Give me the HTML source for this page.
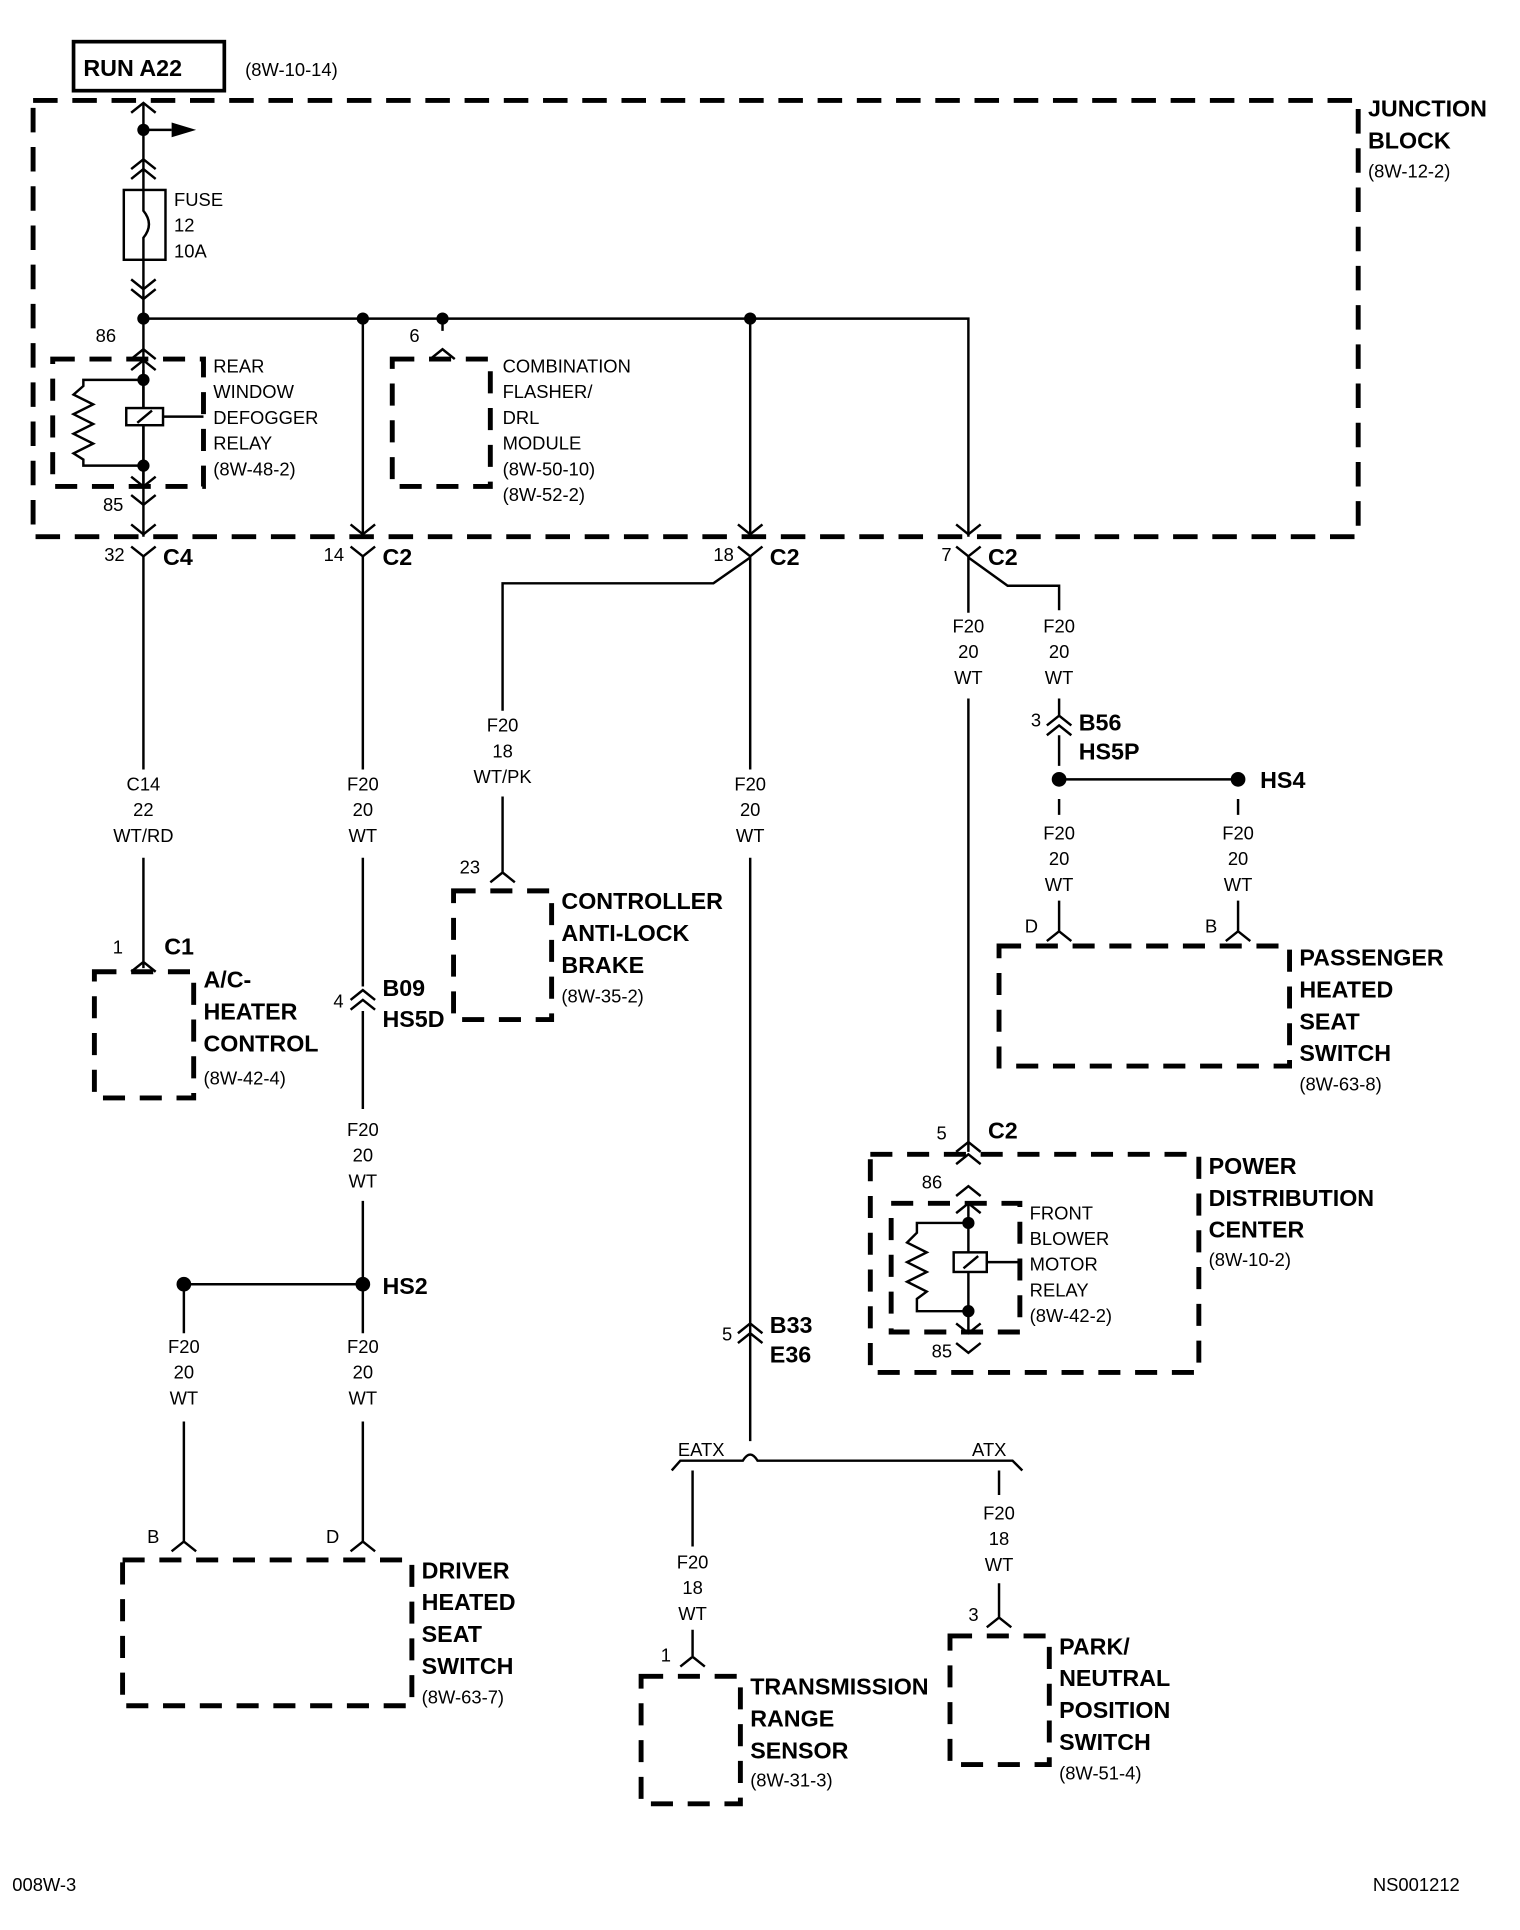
<!DOCTYPE html>
<html><head><meta charset="utf-8"><style>
html,body{margin:0;padding:0;background:#fff;}
svg{display:block;}
text{font-family:"Liberation Sans",sans-serif;fill:#000;}
.s{font-size:15px;}
.b{font-size:19px;font-weight:bold;}
.c{text-anchor:middle;}
</style></head><body>
<svg width="1520" height="1930" viewBox="0 0 1240 1575" preserveAspectRatio="none" xmlns="http://www.w3.org/2000/svg">
<g fill="none" stroke="#000" stroke-width="2">
<rect x="60" y="34" width="123" height="40" stroke-width="3"/>
<rect x="27" y="82" width="1081" height="356" stroke-width="4" stroke-dasharray="20,12"/>
<path d="M117 84V438"/>
<path d="M117 106H140"/>
<path d="M107 92L117 84L127 92 M107 138L117 130L127 138 M107 146L117 138L127 146 M107 228L117 236L127 228 M107 236L117 244L127 236"/>
<rect x="101" y="155" width="34" height="57" fill="#fff"/>
<path d="M117 155V172Q126 183 117 194V212"/>
<path d="M117 260H790V438 M296 260V438 M361 260V270 M612 260V438"/>
<path d="M107 293L117 285L127 293 M351 293L361 285L371 293 M107 302L117 294L127 302"/>
<rect x="43" y="293" width="123" height="104" stroke-width="4" stroke-dasharray="18,12"/>
<path d="M117 302V397 M117 310H68V315L60 322L76 330L60 338L76 346L60 354L76 362L60 370L68 375V380H117"/>
<rect x="103" y="333" width="30" height="14" fill="#fff"/>
<path d="M112 345L124 335 M133 340H166"/>
<path d="M107 389L117 397L127 389 M107 404L117 412L127 404 M107 428L117 436L127 428"/>
<rect x="320" y="293" width="80" height="104" stroke-width="4" stroke-dasharray="18,12"/>
<path d="M286 428L296 436L306 428 M602 428L612 436L622 428 M780 428L790 436L800 428"/>
<path d="M107 446L117 454L127 446 M286 446L296 454L306 446 M602 446L612 454L622 446 M780 446L790 454L800 446"/>
<path d="M117 454V628 M117 700V790 M107 793L117 785L127 793"/>
<rect x="77" y="793" width="81" height="103" stroke-width="4" stroke-dasharray="18,12"/>
<path d="M296 454V628 M296 700V805 M296 825V905 M296 980V1088 M286 816L296 808L306 816 M286 824L296 816L306 824 M150 1048H296 M150 1048V1088 M150 1160V1258 M296 1160V1258 M140 1266L150 1258L160 1266 M286 1266L296 1258L306 1266"/>
<rect x="100" y="1273" width="236" height="119" stroke-width="4" stroke-dasharray="18,12"/>
<path d="M612 454V628 M612 700V1176 M612 455L582 476H410V580 M410 650V712 M400 720L410 712L420 720 M602 1088L612 1080L622 1088 M602 1096L612 1088L622 1096"/>
<rect x="370" y="727" width="80" height="105" stroke-width="4" stroke-dasharray="18,12"/>
<path d="M548 1200L555 1192H606Q612 1182 618 1192H826L834 1200 M565 1200V1262 M565 1330V1352 M555 1360L565 1352L575 1360 M815 1200V1220 M815 1292V1320 M805 1328L815 1320L825 1328"/>
<rect x="523" y="1368" width="81" height="104" stroke-width="4" stroke-dasharray="18,12"/>
<rect x="775" y="1335" width="81" height="105" stroke-width="4" stroke-dasharray="18,12"/>
<path d="M790 454V500 M790 570V940 M790 455L822 478H864V498 M864 570V585 M854 592L864 584L874 592 M854 600L864 592L874 600 M864 600V625 M864 636H1010 M864 652V665 M1010 652V665 M864 735V760 M1010 735V760 M854 768L864 760L874 768 M1000 768L1010 760L1020 768"/>
<rect x="815" y="772" width="237" height="98" stroke-width="4" stroke-dasharray="18,12"/>
<path d="M780 940L790 932L800 940 M780 950L790 942L800 950 M780 976L790 968L800 976 M780 990L790 982L800 990"/>
<rect x="710" y="942" width="268" height="178" stroke-width="4" stroke-dasharray="18,12"/>
<rect x="727" y="982" width="105" height="105" stroke-width="4" stroke-dasharray="18,12"/>
<path d="M790 982V1087 M790 998H748V1006L740 1014L756 1022L740 1030L756 1038L740 1046L756 1054L748 1060V1070H790 M805 1030H832 M780 1080L790 1088L800 1080 M780 1096L790 1104L800 1096"/>
<rect x="778" y="1022" width="27" height="16" fill="#fff"/>
<path d="M786 1035L798 1025"/>
</g>
<g fill="#000">
<path d="M140 100L160 106L140 112Z"/>
<circle cx="117" cy="106" r="5"/><circle cx="117" cy="260" r="5"/><circle cx="296" cy="260" r="5"/><circle cx="361" cy="260" r="5"/><circle cx="612" cy="260" r="5"/>
<circle cx="117" cy="310" r="5"/><circle cx="117" cy="380" r="5"/>
<circle cx="296" cy="1048" r="6"/><circle cx="150" cy="1048" r="6"/>
<circle cx="864" cy="636" r="6"/><circle cx="1010" cy="636" r="6"/>
<circle cx="790" cy="998" r="5"/><circle cx="790" cy="1070" r="5"/>
</g>
<text x="68" y="62" class="b">RUN A22</text>
<text x="200" y="62" class="s">(8W-10-14)</text>
<text x="1116" y="95" class="b">JUNCTION</text><text x="1116" y="121" class="b">BLOCK</text><text x="1116" y="145" class="s">(8W-12-2)</text>
<text x="142" y="168" class="s">FUSE</text><text x="142" y="189" class="s">12</text><text x="142" y="210" class="s">10A</text>
<text x="78" y="279" class="s">86</text><text x="84" y="417" class="s">85</text><text x="334" y="279" class="s">6</text>
<text x="174" y="304" class="s">REAR</text><text x="174" y="325" class="s">WINDOW</text><text x="174" y="346" class="s">DEFOGGER</text><text x="174" y="367" class="s">RELAY</text><text x="174" y="388" class="s">(8W-48-2)</text>
<text x="410" y="304" class="s">COMBINATION</text><text x="410" y="325" class="s">FLASHER/</text><text x="410" y="346" class="s">DRL</text><text x="410" y="367" class="s">MODULE</text><text x="410" y="388" class="s">(8W-50-10)</text><text x="410" y="409" class="s">(8W-52-2)</text>
<text x="85" y="458" class="s">32</text><text x="133" y="461" class="b">C4</text>
<text x="264" y="458" class="s">14</text><text x="312" y="461" class="b">C2</text>
<text x="582" y="458" class="s">18</text><text x="628" y="461" class="b">C2</text>
<text x="768" y="458" class="s">7</text><text x="806" y="461" class="b">C2</text>
<g class="s c">
<text x="117" y="645">C14</text><text x="117" y="666">22</text><text x="117" y="687">WT/RD</text>
<text x="296" y="645">F20</text><text x="296" y="666">20</text><text x="296" y="687">WT</text>
<text x="296" y="927">F20</text><text x="296" y="948">20</text><text x="296" y="969">WT</text>
<text x="150" y="1104">F20</text><text x="150" y="1125">20</text><text x="150" y="1146">WT</text>
<text x="296" y="1104">F20</text><text x="296" y="1125">20</text><text x="296" y="1146">WT</text>
<text x="410" y="597">F20</text><text x="410" y="618">18</text><text x="410" y="639">WT/PK</text>
<text x="612" y="645">F20</text><text x="612" y="666">20</text><text x="612" y="687">WT</text>
<text x="565" y="1280">F20</text><text x="565" y="1301">18</text><text x="565" y="1322">WT</text>
<text x="815" y="1240">F20</text><text x="815" y="1261">18</text><text x="815" y="1282">WT</text>
<text x="790" y="516">F20</text><text x="790" y="537">20</text><text x="790" y="558">WT</text>
<text x="864" y="516">F20</text><text x="864" y="537">20</text><text x="864" y="558">WT</text>
<text x="864" y="685">F20</text><text x="864" y="706">20</text><text x="864" y="727">WT</text>
<text x="1010" y="685">F20</text><text x="1010" y="706">20</text><text x="1010" y="727">WT</text>
</g>
<text x="92" y="778" class="s">1</text><text x="134" y="779" class="b">C1</text>
<text x="166" y="806" class="b">A/C-</text><text x="166" y="832" class="b">HEATER</text><text x="166" y="858" class="b">CONTROL</text><text x="166" y="885" class="s">(8W-42-4)</text>
<text x="272" y="822" class="s">4</text><text x="312" y="813" class="b">B09</text><text x="312" y="838" class="b">HS5D</text>
<text x="312" y="1056" class="b">HS2</text>
<text x="120" y="1259" class="s">B</text><text x="266" y="1259" class="s">D</text>
<text x="344" y="1288" class="b">DRIVER</text><text x="344" y="1314" class="b">HEATED</text><text x="344" y="1340" class="b">SEAT</text><text x="344" y="1366" class="b">SWITCH</text><text x="344" y="1390" class="s">(8W-63-7)</text>
<text x="375" y="713" class="s">23</text>
<text x="458" y="742" class="b">CONTROLLER</text><text x="458" y="768" class="b">ANTI-LOCK</text><text x="458" y="794" class="b">BRAKE</text><text x="458" y="818" class="s">(8W-35-2)</text>
<text x="589" y="1094" class="s">5</text><text x="628" y="1088" class="b">B33</text><text x="628" y="1112" class="b">E36</text>
<text x="553" y="1188" class="s">EATX</text><text x="793" y="1188" class="s">ATX</text>
<text x="539" y="1356" class="s">1</text><text x="790" y="1323" class="s">3</text>
<text x="612" y="1383" class="b">TRANSMISSION</text><text x="612" y="1409" class="b">RANGE</text><text x="612" y="1435" class="b">SENSOR</text><text x="612" y="1458" class="s">(8W-31-3)</text>
<text x="864" y="1350" class="b">PARK/</text><text x="864" y="1376" class="b">NEUTRAL</text><text x="864" y="1402" class="b">POSITION</text><text x="864" y="1428" class="b">SWITCH</text><text x="864" y="1452" class="s">(8W-51-4)</text>
<text x="841" y="593" class="s">3</text><text x="880" y="596" class="b">B56</text><text x="880" y="620" class="b">HS5P</text>
<text x="1028" y="643" class="b">HS4</text>
<text x="836" y="761" class="s">D</text><text x="983" y="761" class="s">B</text>
<text x="1060" y="788" class="b">PASSENGER</text><text x="1060" y="814" class="b">HEATED</text><text x="1060" y="840" class="b">SEAT</text><text x="1060" y="866" class="b">SWITCH</text><text x="1060" y="890" class="s">(8W-63-8)</text>
<text x="764" y="930" class="s">5</text><text x="806" y="929" class="b">C2</text>
<text x="752" y="970" class="s">86</text><text x="760" y="1108" class="s">85</text>
<text x="840" y="995" class="s">FRONT</text><text x="840" y="1016" class="s">BLOWER</text><text x="840" y="1037" class="s">MOTOR</text><text x="840" y="1058" class="s">RELAY</text><text x="840" y="1079" class="s">(8W-42-2)</text>
<text x="986" y="958" class="b">POWER</text><text x="986" y="984" class="b">DISTRIBUTION</text><text x="986" y="1010" class="b">CENTER</text><text x="986" y="1033" class="s">(8W-10-2)</text>
<text x="10" y="1543" class="s">008W-3</text><text x="1120" y="1543" class="s">NS001212</text>
</svg>
</body></html>
